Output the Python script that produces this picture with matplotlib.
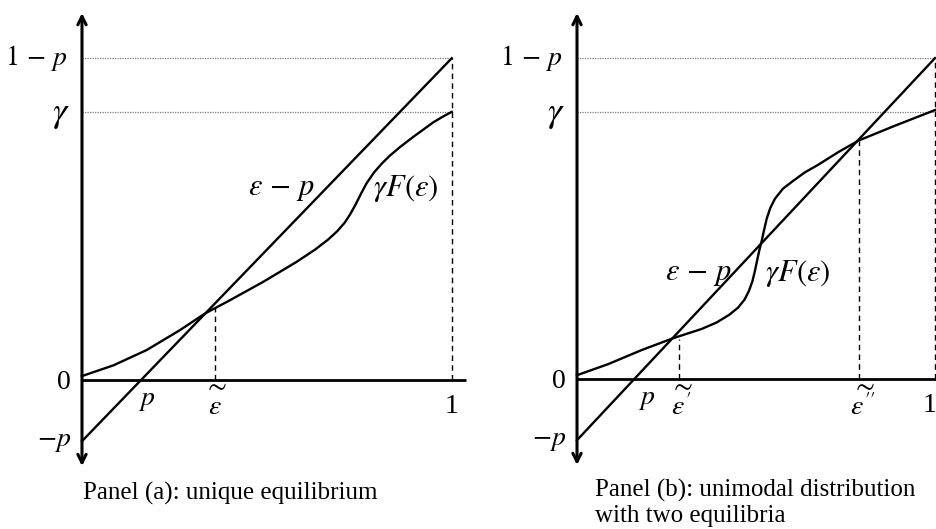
import matplotlib
matplotlib.use("Agg")
import matplotlib.pyplot as plt

plt.rcParams['font.family'] = ['Liberation Serif', 'DejaVu Serif']
plt.rcParams['mathtext.fontset'] = 'stix'

# values (axis units: epsilon on x, payoff on y)
p = 0.16
gamma = 0.70

line_x = [0.0, 1.0]
line_y = [-p, 1 - p]

# panel (a): gamma*F(eps), unique equilibrium
eps_a = [0.0, 0.085, 0.175, 0.265, 0.332, 0.40, 0.49, 0.58, 0.63, 0.665,
         0.69, 0.71, 0.725, 0.74, 0.755, 0.77, 0.79, 0.81, 0.832, 0.86,
         0.895, 0.925, 0.949, 0.975, 1.0]
gF_a = [0.01, 0.038, 0.078, 0.130, 0.173, 0.208, 0.256, 0.308, 0.340, 0.366,
        0.388, 0.410, 0.432, 0.458, 0.487, 0.514, 0.542, 0.564, 0.585, 0.608,
        0.634, 0.655, 0.672, 0.687, 0.70]
eq_a_x = [0.36]
eq_a_y = [0.19]
eq_a_prime = ['']

# panel (b): unimodal distribution, two equilibria
eps_b = [0.0, 0.087, 0.181, 0.269, 0.348, 0.39, 0.425, 0.450, 0.468, 0.480,
         0.490, 0.497, 0.503, 0.509, 0.516, 0.523, 0.530, 0.540, 0.553, 0.575,
         0.600, 0.635, 0.674, 0.73, 0.786, 0.888, 1.0]
gF_b = [0.01, 0.039, 0.076, 0.107, 0.131, 0.148, 0.168, 0.187, 0.208, 0.230,
        0.256, 0.283, 0.310, 0.336, 0.362, 0.392, 0.420, 0.448, 0.472, 0.498,
        0.516, 0.540, 0.561, 0.594, 0.624, 0.663, 0.704]
eq_b_x = [0.285, 0.788]
eq_b_y = [0.105, 0.624]
eq_b_prime = ["'", "''"]

fig = plt.figure(figsize=(9.37, 5.29), dpi=100)
ax_a = fig.add_axes([0.0875, 0.119, 0.4096, 0.8563])
ax_b = fig.add_axes([0.6158, 0.121, 0.3859, 0.8544])

ylo, yhi = -0.225, 0.958


def draw_panel(ax, eps, gF, eq_x, eq_y, eq_prime, xmax, p_dx, one_dx,
               lab_a, lab_b):
    ax.set_xlim(0, xmax)
    ax.set_ylim(ylo, yhi)
    ax.axis('off')

    # axes
    ax.annotate('', xy=(0, yhi), xytext=(0, ylo),
                arrowprops=dict(arrowstyle='<->,head_length=0.6,head_width=0.3',
                                lw=2.2, color='black', shrinkA=0, shrinkB=0),
                annotation_clip=False)
    ax.plot([0, xmax], [0, 0], color='black', lw=2.0, clip_on=False,
            solid_capstyle='butt')

    # guide lines
    for yv in [1 - p, gamma]:
        ax.plot([0, 1], [yv, yv], color='#7a7a7a', lw=0.9, ls=(0, (1, 1)))
    ax.plot([1, 1], [0, 1 - p], color='black', lw=1.0, ls=(0, (4, 3)))
    for xv, yv in zip(eq_x, eq_y):
        ax.plot([xv, xv], [0, yv], color='black', lw=1.0, ls=(0, (4, 3)))

    # curves
    ax.plot(line_x, line_y, color='black', lw=1.7, clip_on=False)
    ax.plot(eps, gF, color='black', lw=1.7, clip_on=False,
            solid_joinstyle='round')

    # labels on the vertical axis
    kw = dict(textcoords='offset points', ha='right', va='center',
              annotation_clip=False)
    ax.annotate(r'$1\,-\,p$', xy=(0, 1 - p), xytext=(-10, 0), fontsize=20, **kw)
    ax.annotate(r'$\gamma$', xy=(0, gamma), xytext=(-9, -2), fontsize=26, **kw)
    ax.annotate('0', xy=(0, 0), xytext=(-8, -2), fontsize=20, **kw)
    ax.annotate(r'$-p$', xy=(0, -p), xytext=(-8, 0), fontsize=20, **kw)

    # labels under the horizontal axis
    kw = dict(textcoords='offset points', annotation_clip=False, fontsize=20)
    ax.annotate(r'$p$', xy=(p, 0), xytext=(p_dx, -6), ha='center', va='top',
                **kw)
    for xv, pr in zip(eq_x, eq_prime):
        ax.annotate(r'$\sim$' + '\n' + r'$\varepsilon%s$' % pr, xy=(xv, 0),
                    xytext=(1.3 * len(pr), 4), ha='center', va='top',
                    multialignment='center', linespacing=0.78, **kw)
    ax.annotate('1', xy=(1, 0), xytext=(one_dx, -10), ha='center', va='top',
                **kw)

    # curve labels
    ax.text(lab_a[0], lab_a[1], r'$\varepsilon\,-\,p$', fontsize=22,
            ha='right', va='center')
    ax.text(lab_b[0], lab_b[1], r'$\gamma F(\varepsilon)$', fontsize=22,
            ha='left', va='center')


draw_panel(ax_a, eps_a, gF_a, eq_a_x, eq_a_y, eq_a_prime, 1.038, 4, 0,
           (0.63, 0.50), (0.787, 0.50))
draw_panel(ax_b, eps_b, gF_b, eq_b_x, eq_b_y, eq_b_prime, 1.01, 9, -4,
           (0.432, 0.277), (0.525, 0.277))

fig.text(83 / 937, 1 - 500 / 529, 'Panel (a): unique equilibrium',
         fontsize=18, ha='left', va='baseline')
fig.text(595 / 937, 1 - 497 / 529, 'Panel (b): unimodal distribution',
         fontsize=18, ha='left', va='baseline')
fig.text(595 / 937, 1 - 522 / 529, 'with two equilibria',
         fontsize=18, ha='left', va='baseline')

fig.savefig('out.png', dpi=100, facecolor='white')
